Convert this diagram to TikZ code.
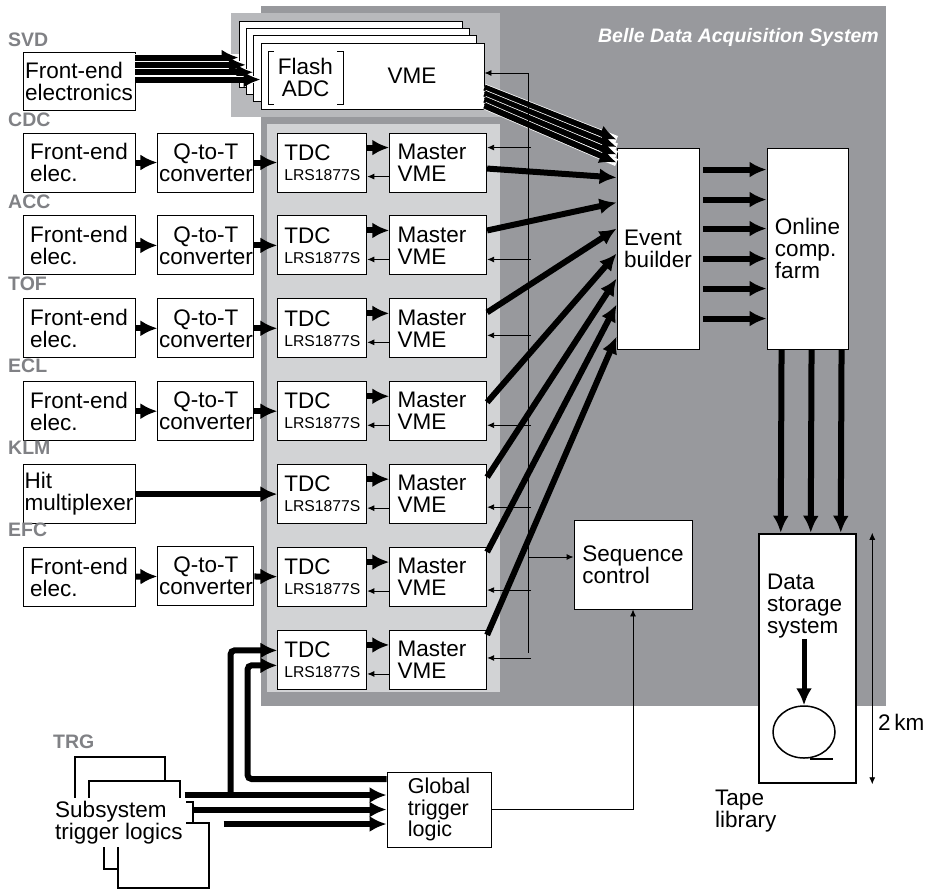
\documentclass[tikz,border=0pt]{standalone}
\usepackage{fontspec}
\setmainfont{Liberation Sans}
\usetikzlibrary{arrows.meta, positioning, shapes.geometric}
\definecolor{daqgray}{RGB}{152,153,157}
\definecolor{svdgray}{RGB}{184,185,188}
\definecolor{rackgray}{RGB}{210,211,213}
\definecolor{labgray}{RGB}{128,129,133}
\newcommand{\daqfont}{\fontsize{22.5}{22}\selectfont}
\newcommand{\lrsline}{\\[-2pt]{\fontsize{15.7}{16}\selectfont LRS1877S}}
\tikzset{
  box/.style={rectangle,draw,fill=white,line width=0.9pt,inner sep=0pt,align=left,font=\daqfont},
  febox/.style={box,minimum width=112pt,minimum height=59pt},
  qtbox/.style={box,align=center,minimum width=96pt,minimum height=59pt},
  tdcbox/.style={box,minimum width=89pt,minimum height=59pt},
  vmebox/.style={box,text width=81pt,minimum width=97pt,minimum height=59pt},
  stackbox/.style={rectangle,draw,fill=white,line width=1.4pt,inner sep=0pt},
  det/.style={anchor=west,inner sep=0pt,text=labgray,font=\fontsize{19.5}{20}\selectfont\bfseries},
  line/.style={line width=0.9pt,-{Latex[length=7pt,width=6pt]}},
  span/.style={line width=0.9pt,{Latex[length=7pt,width=6pt]}-{Latex[length=7pt,width=6pt]}},
  fat/.style={line width=6pt,-{Latex[length=17pt,width=16pt]}},
  bundle/.style={fat,preaction={draw=white,line width=7.5pt,-}}
}

\begin{document}
\begin{tikzpicture}[x=1pt,y=-1pt]
\useasboundingbox (0,0) rectangle (928,892);
% grey areas
\fill[daqgray] (261,6) rectangle (886,706);
\fill[svdgray] (231,13) rectangle (500,117);
\fill[rackgray] (267,124) rectangle (500,692);
\node[anchor=east,inner sep=0pt,text=white,font=\fontsize{19.5}{20}\selectfont\bfseries\itshape] (title) at (879,37) {Belle Data Acquisition System};

% SVD with flash ADC crates
\node[det] (lsvd) at (8,40) {SVD};
\node[febox,minimum height=58pt] (svdfe) at (79,81) {Front-end\\electronics};
\node[stackbox,line width=0.9pt,minimum width=223pt,minimum height=66pt] (fl0) at (350.5,54) {};
\node[stackbox,line width=0.9pt,minimum width=223pt,minimum height=66pt] (fl1) at (357.8,61.3) {};
\node[stackbox,line width=0.9pt,minimum width=223pt,minimum height=66pt] (fl2) at (365.2,68.7) {};
\node[stackbox,line width=0.9pt,minimum width=223pt,minimum height=66pt] (fl3) at (372.5,76) {};
\node[font=\daqfont,align=center,inner sep=0pt] (fadc) at (305.5,77.5) {Flash\\ADC};
\node[font=\daqfont,inner sep=0pt] (svdvme) at (412,76) {VME};
\draw[line width=0.9pt] (274,51) -- (268,51) -- (268,104) -- (274,104);
\draw[line width=0.9pt] (337,51) -- (343,51) -- (343,104) -- (337,104);

% detector rows
\node[det] (lcdc) at (8,120) {CDC};
\node[febox] (cdcfe) at (79,162.5) {Front-end\\elec.};
\node[qtbox, right=22pt of cdcfe] (cdcqt) {Q-to-T\\converter};
\node[tdcbox, right=23pt of cdcqt] (cdctdc) {TDC\lrsline};
\node[vmebox, right=22pt of cdctdc] (cdcvme) {Master\\VME};

\node[det] (lacc) at (8,202) {ACC};
\node[febox, below=23pt of cdcfe] (accfe) {Front-end\\elec.};
\node[qtbox, below=23pt of cdcqt] (accqt) {Q-to-T\\converter};
\node[tdcbox, below=23pt of cdctdc] (acctdc) {TDC\lrsline};
\node[vmebox, below=23pt of cdcvme] (accvme) {Master\\VME};

\node[det] (ltof) at (8,284) {TOF};
\node[febox, below=23pt of accfe] (toffe) {Front-end\\elec.};
\node[qtbox, below=23pt of accqt] (tofqt) {Q-to-T\\converter};
\node[tdcbox, below=23pt of acctdc] (toftdc) {TDC\lrsline};
\node[vmebox, below=23pt of accvme] (tofvme) {Master\\VME};

\node[det] (lecl) at (8,366) {ECL};
\node[febox, below=23pt of toffe] (eclfe) {Front-end\\elec.};
\node[qtbox, below=23pt of tofqt] (eclqt) {Q-to-T\\converter};
\node[tdcbox, below=23pt of toftdc] (ecltdc) {TDC\lrsline};
\node[vmebox, below=23pt of tofvme] (eclvme) {Master\\VME};

\node[det] (lklm) at (8,448) {KLM};
\node[febox, below=23pt of eclfe] (klmhit) {Hit\\multiplexer};
\node[tdcbox, below=23pt of ecltdc] (klmtdc) {TDC\lrsline};
\node[vmebox, below=23pt of eclvme] (klmvme) {Master\\VME};

\node[det] (lefc) at (8,530) {EFC};
\node[febox, below=23pt of klmhit] (efcfe) {Front-end\\elec.};
\node[qtbox, below=23pt of eclqt, yshift=-82pt] (efcqt) {Q-to-T\\converter};
\node[tdcbox, below=23pt of klmtdc] (efctdc) {TDC\lrsline};
\node[vmebox, below=23pt of klmvme] (efcvme) {Master\\VME};

\node[tdcbox, below=23pt of efctdc] (trgtdc) {TDC\lrsline};
\node[vmebox, below=23pt of efcvme] (trgvme) {Master\\VME};

% central blocks
\node[box,minimum width=82pt,minimum height=201pt] (eb) at (658,248.5) {Event\\builder};
\node[box,minimum width=81pt,minimum height=201pt] (farm) at (807.5,248.5) {Online\\comp.\\farm};
\node[box,minimum width=118pt,minimum height=89pt] (seq) at (633,564.5) {Sequence\\control};
\node[box,line width=2.5pt,minimum width=97pt,minimum height=249pt] (store) at (807.5,658.5) {};
\node[anchor=west,align=left,inner sep=0pt,font=\daqfont] (storetxt) at (767,606.5) {Data\\storage\\system};
\node[draw,ellipse,line width=1.5pt,minimum width=62pt,minimum height=52pt,inner sep=0pt] (tape) at (804,732) {};
\node[anchor=west,inner sep=0pt,font=\daqfont] (km) at (878,722) {2\,km};
\node[anchor=west,align=left,inner sep=0pt,font=\daqfont] (tapelib) at (715,811) {Tape\\library};

% trigger
\node[det] (ltrg) at (53,742) {TRG};
\node[stackbox,minimum width=90pt,minimum height=83pt] (st1) at (120,798.5) {};
\node[stackbox,minimum width=91pt,minimum height=64pt] (st2) at (134.5,813) {};
\node[stackbox,minimum width=89pt,minimum height=67pt] (st3) at (148.5,835.5) {};
\node[stackbox,minimum width=91pt,minimum height=65pt] (st4) at (163.5,855.5) {};
\node[fill=white,align=left,inner sep=3pt,font=\daqfont] (sub) at (119,822.5) {Subsystem\\trigger logics};
\node[box,minimum width=104pt,minimum height=75pt,font=\fontsize{21.5}{21.5}\selectfont] (gtl) at (439,809.5) {Global\\trigger\\logic};

% SVD data paths
\draw[bundle] ([yshift=-6pt]svdfe.north east) -- ([yshift=-37pt]fl0.north west);
\draw[bundle] ([yshift=-13.3pt]svdfe.north east) -- ([yshift=-37pt]fl1.north west);
\draw[bundle] ([yshift=-20.7pt]svdfe.north east) -- ([yshift=-37pt]fl2.north west);
\draw[bundle] ([yshift=-28pt]svdfe.north east) -- ([yshift=-37pt]fl3.north west);
\draw[bundle] ([yshift=-45pt]fl3.north east) -- ([yshift=8pt]eb.north west);
\draw[bundle] ([yshift=-51pt]fl3.north east) -- ([yshift=0.5pt]eb.north west);
\draw[bundle] ([yshift=-57pt]fl3.north east) -- ([yshift=-7pt]eb.north west);
\draw[bundle] ([yshift=-63pt]fl3.north east) -- ([yshift=-15pt]eb.north west);

% control bus
\coordinate (bustop) at (528,73);
\coordinate (busbot) at (528,653);
\draw[line width=0.9pt] (bustop) -- (busbot);
\draw[line] (bustop) -- (bustop -| fl3.east);
\draw[line] ([xshift=-46pt,yshift=7.5pt]seq.west) -- ([yshift=7.5pt]seq.west);

% front-end chains
\draw[fat] (cdcfe) -- (cdcqt);
\draw[fat] (cdcqt) -- (cdctdc);
\draw[fat] (accfe) -- (accqt);
\draw[fat] (accqt) -- (acctdc);
\draw[fat] (toffe) -- (tofqt);
\draw[fat] (tofqt) -- (toftdc);
\draw[fat] (eclfe) -- (eclqt);
\draw[fat] (eclqt) -- (ecltdc);
\draw[fat] (klmhit) -- (klmtdc);
\draw[fat] (efcfe) -- (efcqt);
\draw[fat] (efcqt) -- (efctdc);

% TDC <-> master VME
\draw[fat] ([yshift=-15pt]cdctdc.north east) -- ([yshift=-15pt]cdcvme.north west);
\draw[fat] ([yshift=-15pt]acctdc.north east) -- ([yshift=-15pt]accvme.north west);
\draw[fat] ([yshift=-15pt]toftdc.north east) -- ([yshift=-15pt]tofvme.north west);
\draw[fat] ([yshift=-15pt]ecltdc.north east) -- ([yshift=-15pt]eclvme.north west);
\draw[fat] ([yshift=-15pt]klmtdc.north east) -- ([yshift=-15pt]klmvme.north west);
\draw[fat] ([yshift=-15pt]efctdc.north east) -- ([yshift=-15pt]efcvme.north west);
\draw[fat] ([yshift=-15pt]trgtdc.north east) -- ([yshift=-15pt]trgvme.north west);
\draw[line] ([yshift=-44pt]cdcvme.north west) -- ([yshift=-44pt]cdctdc.north east);
\draw[line] ([yshift=-44pt]accvme.north west) -- ([yshift=-44pt]acctdc.north east);
\draw[line] ([yshift=-44pt]tofvme.north west) -- ([yshift=-44pt]toftdc.north east);
\draw[line] ([yshift=-44pt]eclvme.north west) -- ([yshift=-44pt]ecltdc.north east);
\draw[line] ([yshift=-44pt]klmvme.north west) -- ([yshift=-44pt]klmtdc.north east);
\draw[line] ([yshift=-44pt]efcvme.north west) -- ([yshift=-44pt]efctdc.north east);
\draw[line] ([yshift=-44pt]trgvme.north west) -- ([yshift=-44pt]trgtdc.north east);

% bus -> master VME
\draw[line] ([xshift=44pt,yshift=-15pt]cdcvme.north east) -- ([yshift=-15pt]cdcvme.north east);
\draw[line] ([xshift=44pt,yshift=-44pt]accvme.north east) -- ([yshift=-44pt]accvme.north east);
\draw[line] ([xshift=44pt,yshift=-37pt]tofvme.north east) -- ([yshift=-37pt]tofvme.north east);
\draw[line] ([xshift=44pt,yshift=-44pt]eclvme.north east) -- ([yshift=-44pt]eclvme.north east);
\draw[line] ([xshift=44pt,yshift=-43pt]klmvme.north east) -- ([yshift=-43pt]klmvme.north east);
\draw[line] ([xshift=44pt,yshift=-43pt]efcvme.north east) -- ([yshift=-43pt]efcvme.north east);
\draw[line] ([xshift=44pt,yshift=-28pt]trgvme.north east) -- ([yshift=-28pt]trgvme.north east);

% master VME -> event builder
\draw[fat] ([yshift=-36pt]cdcvme.north east) -- ([yshift=-30pt]eb.north west);
\draw[fat] ([yshift=-15pt]accvme.north east) -- ([yshift=-55pt]eb.north west);
\draw[fat] ([yshift=-14pt]tofvme.north east) -- ([yshift=-81pt]eb.north west);
\draw[fat] ([yshift=-21pt]eclvme.north east) -- ([yshift=-106pt]eb.north west);
\draw[fat] ([yshift=-13pt]klmvme.north east) -- ([yshift=-131pt]eb.north west);
\draw[fat] ([yshift=-5pt]efcvme.north east) -- ([yshift=-157pt]eb.north west);
\draw[fat] ([yshift=-5pt]trgvme.north east) -- ([yshift=-189pt]eb.north west);

% event builder -> farm -> storage
\draw[fat] ([xshift=4pt,yshift=-22pt]eb.north east) -- ([yshift=-22pt]farm.north west);
\draw[fat] ([xshift=4pt,yshift=-52pt]eb.north east) -- ([yshift=-52pt]farm.north west);
\draw[fat] ([xshift=4pt,yshift=-81pt]eb.north east) -- ([yshift=-81pt]farm.north west);
\draw[fat] ([xshift=4pt,yshift=-111pt]eb.north east) -- ([yshift=-111pt]farm.north west);
\draw[fat] ([xshift=4pt,yshift=-141pt]eb.north east) -- ([yshift=-141pt]farm.north west);
\draw[fat] ([xshift=4pt,yshift=-171pt]eb.north east) -- ([yshift=-171pt]farm.north west);
\draw[fat] ([xshift=15pt]farm.south west) -- ([xshift=23pt]store.north west);
\draw[fat] ([xshift=45pt]farm.south west) -- ([xshift=53pt]store.north west);
\draw[fat] ([xshift=75pt]farm.south west) -- ([xshift=83pt]store.north west);
\draw[fat,line width=5pt] (storetxt.south -| tape.north) -- (tape.north);
\draw[line width=1.5pt] ([xshift=6pt]tape.south) -- ([xshift=29pt]tape.south);
\draw[span] ([xshift=15pt]store.north east) -- ([xshift=15pt]store.south east);

% trigger paths
\draw[fat] ([xshift=-202pt,yshift=14.5pt]gtl.west) -- ([yshift=14.5pt]gtl.west);
\draw[fat] ([xshift=-194pt]gtl.west) -- (gtl.west);
\draw[fat] ([xshift=-163pt,yshift=-14.5pt]gtl.west) -- ([yshift=-14.5pt]gtl.west);
\draw[fat,rounded corners=4pt] ([xshift=-156pt,yshift=14.5pt]gtl.west) |- ([yshift=9.5pt]trgtdc.west);
\draw[fat,rounded corners=4pt] ([yshift=30.5pt]gtl.west) -- ++(-139,0) |- ([yshift=-5.5pt]trgtdc.west);
\draw[line] (gtl.east) -| (seq.south);
\end{tikzpicture}
\end{document}
